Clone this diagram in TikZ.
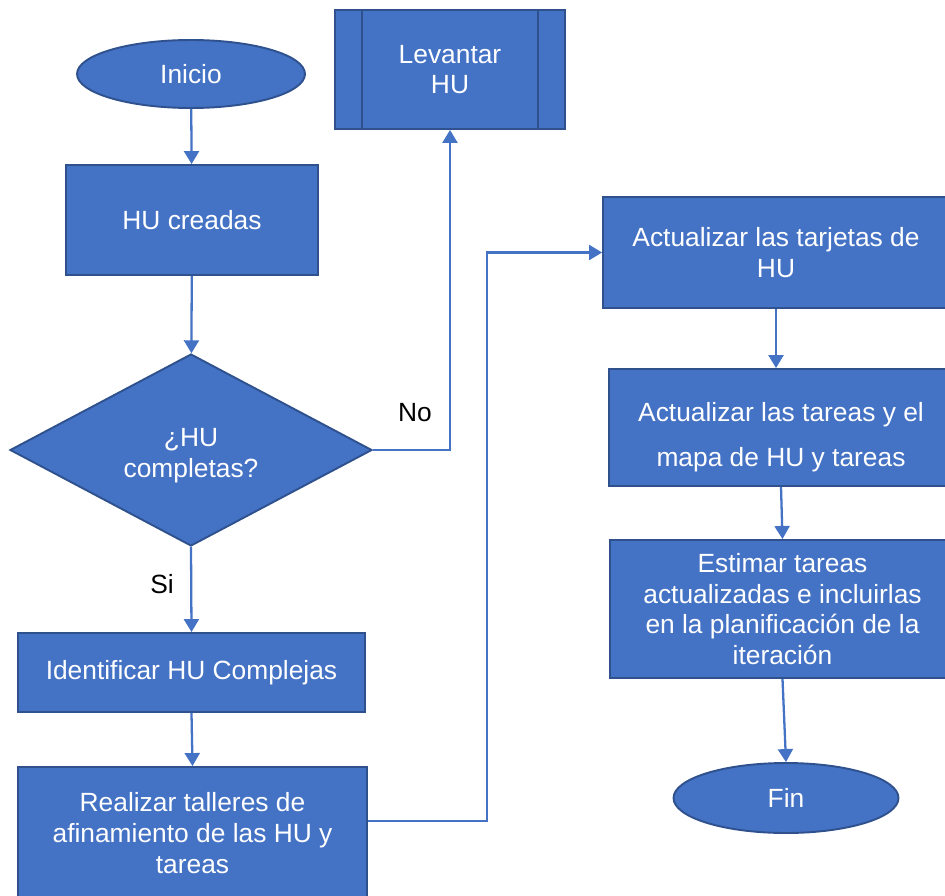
\documentclass[tikz,border=0pt]{standalone}
\usepackage{fontspec}
\setmainfont{Liberation Sans}
\usetikzlibrary{shapes.geometric,arrows.meta}
\definecolor{boxfill}{HTML}{4472C4}
\definecolor{boxline}{HTML}{2F528F}
\begin{document}
\begin{tikzpicture}[x=0.02cm,y=-0.02cm,
  base/.style={fill=boxfill,draw=boxline,line width=1.1pt,text=white,
    font=\fontsize{15}{17.5}\selectfont,align=center,inner sep=0pt},
  procbox/.style={base,rectangle},
  termbox/.style={base,ellipse},
  decbox/.style={base,diamond},
  flow/.style={draw=boxfill,line width=1.3pt,
    -{Triangle[width=0.3cm,length=0.26cm]}},
  lbl/.style={font=\fontsize{15}{17.5}\selectfont,text=black}]
\useasboundingbox (0,0) rectangle (945,895);
\begin{scope}
\clip (0,0) rectangle (945,895);

\node[termbox,minimum width=4.56cm,minimum height=1.36cm] (inicio) at (191,74) {Inicio};
\node[procbox,minimum width=4.6cm,minimum height=2.38cm] (levantar) at (450,69.5) {Levantar\\HU};
\draw[draw=boxline,line width=1.1pt]
  ([xshift=0.56cm]levantar.north west) -- ([xshift=0.56cm]levantar.south west)
  ([xshift=-0.56cm]levantar.north east) -- ([xshift=-0.56cm]levantar.south east);
\node[procbox,minimum width=5.04cm,minimum height=2.2cm] (creadas) at (192,220) {HU creadas};
\node[decbox,aspect=1.885,minimum width=7.24cm,minimum height=3.84cm] (dec) at (191,450)
  {\raisebox{-0.25cm}[0pt][0pt]{\begin{tabular}{@{}c@{}}¿HU\\completas?\end{tabular}}};
\node[procbox,minimum width=6.94cm,minimum height=1.58cm] (ident) at (191.5,672.5) {Identificar HU Complejas};
\node[procbox,minimum width=6.98cm,minimum height=2.64cm] (realizar) at (192.5,833) {Realizar talleres de\\afinamiento de las HU y\\tareas};
\node[procbox,minimum width=6.92cm,minimum height=2.22cm] (tarjetas) at (776,252.5) {Actualizar las tarjetas de\\HU};
\node[procbox,minimum width=6.88cm,minimum height=2.34cm] (tareas) at (781,427.5)
  {\raisebox{-0.33cm}[0pt][0pt]{\begin{tabular}{@{}c@{}}Actualizar las tareas y el\\[0.28cm]mapa de HU y tareas\end{tabular}}};
\node[procbox,minimum width=6.9cm,minimum height=2.76cm] (estimar) at (782.5,609) {Estimar tareas\\actualizadas e incluirlas\\en la planificación de la\\iteración};
\node[termbox,minimum width=4.5cm,minimum height=1.4cm] (fin) at (786,798) {Fin};

\draw[flow] (inicio) -- (creadas);
\draw[flow] (creadas) -- (dec);
\draw[flow] (dec.east) -| (levantar.south);
\draw[flow] (dec.south) -- (ident.north);
\draw[flow] (ident.south) -- (realizar.north);
\draw[flow] ([yshift=0.24cm]realizar.east) -- ++(2.38cm,0) |- (tarjetas.west);
\draw[flow] (tarjetas.south) -- (tarjetas.south |- tareas.north);
\draw[flow] (tareas.south) -- (estimar.north);
\draw[flow] (estimar.south) -- (fin.north);

\node[lbl] (no) at (415,413) {No};
\node[lbl] (si) at (162,584) {Si};
\end{scope}
\end{tikzpicture}
\end{document}
